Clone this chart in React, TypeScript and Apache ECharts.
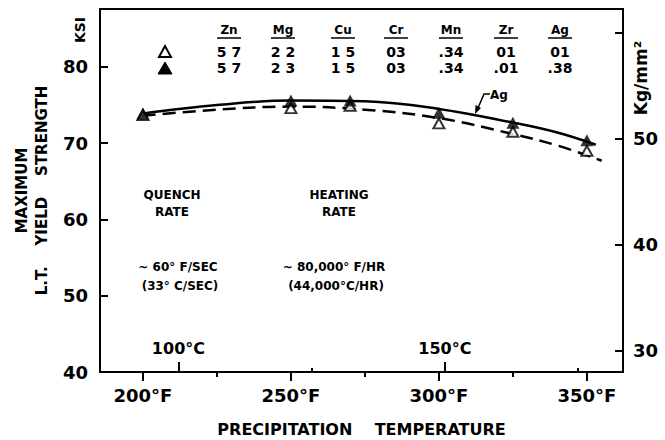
import React, { useEffect, useRef } from "react";
import * as echarts from "echarts";

// ---- data ----
const F_MAJOR = [200, 250, 300, 350];
const F_MINOR = [225, 275, 325];
const C_MAJOR = [100, 150];
const C_MINOR = [125, 175];
const KSI_TICKS = [40, 50, 60, 70, 80];
const KGMM_TICKS = [30, 40, 50, 60];
const KGMM_LABELS = [30, 40, 50];

// measured points (KSI)
const POINT_F = [200, 250, 270, 300, 325, 350];
const OPEN_KSI = [73.7, 74.6, 74.9, 72.6, 71.5, 69.0];
const FILLED_KSI = [73.9, 75.6, 75.6, 74.0, 72.7, 70.4];

// fitted curves
const SOLID_F = [200, 225, 250, 275, 300, 325, 340, 353];
const SOLID_KSI = [73.9, 75.0, 75.6, 75.5, 74.5, 72.7, 71.4, 69.8];
const DASH_F = [200, 225, 250, 275, 300, 325, 340, 355];
const DASH_KSI = [73.6, 74.4, 74.8, 74.4, 73.3, 71.2, 69.7, 67.7];

// composition table
const ELEMENTS = ["Zn", "Mg", "Cu", "Cr", "Mn", "Zr", "Ag"];
const OPEN_COMP = ["5 7", "2 2", "1 5", "03", ".34", "01", "01"];
const FILLED_COMP = ["5 7", "2 3", "1 5", "03", ".34", ".01", ".38"];

const X_MIN_F = 185.5;
const X_MAX_F = 362.2;
const toC = (f: number) => (f - 32) / 1.8;

const FONT = "DejaVu Sans";

export default function App() {
  const ref = useRef<HTMLDivElement>(null);
  useEffect(() => {
    if (!ref.current) return;
    const chart = echarts.init(ref.current, undefined, { renderer: "svg" });
    const black = "#000";
    const txt = (text: string, x: number, y: number, size: number, extra: any = {}) => ({
      type: "text",
      x,
      y,
      ...extra,
      style: {
        text,
        fill: black,
        font: `bold ${size}px "${FONT}"`,
        align: "center",
        verticalAlign: "middle",
        ...(extra.style || {}),
      },
    });
    const colX = [229, 283, 343, 396, 451, 506, 560];
    const graphics: any[] = [];
    ELEMENTS.forEach((el, i) => {
      graphics.push(txt(el, colX[i], 30, 12));
      graphics.push({
        type: "line",
        shape: { x1: colX[i] - 12, y1: 38, x2: colX[i] + 12, y2: 38 },
        style: { stroke: black, lineWidth: 1.5 },
      });
      graphics.push(txt(OPEN_COMP[i], colX[i], 52, 14));
      graphics.push(txt(FILLED_COMP[i], colX[i], 68, 14));
    });
    graphics.push({
      type: "polygon",
      shape: { points: [[165, 46], [159, 57], [171, 57]] },
      style: { fill: "#fff", stroke: black, lineWidth: 2 },
    });
    graphics.push({
      type: "polygon",
      shape: { points: [[165, 62], [158, 74], [172, 74]] },
      style: { fill: black, stroke: black, lineWidth: 1 },
    });
    graphics.push(txt("KSI", 80, 30, 14, { rotation: Math.PI / 2 }));
    graphics.push(txt("Kg/mm²", 641, 78, 17, { rotation: Math.PI / 2 }));
    graphics.push(txt("QUENCH", 172, 195, 12));
    graphics.push(txt("RATE", 172, 212, 12));
    graphics.push(txt("HEATING", 339, 195, 12));
    graphics.push(txt("RATE", 339, 212, 12));
    graphics.push(txt("~ 60° F/SEC", 178, 267, 12));
    graphics.push(txt("(33° C/SEC)", 180, 286, 12));
    graphics.push(txt("~ 80,000° F/HR", 334, 267, 12));
    graphics.push(txt("(44,000°C/HR)", 336, 286, 12));
    graphics.push(txt("Ag", 499, 95, 12));
    graphics.push({
      type: "polyline",
      shape: { points: [[490, 94], [484, 94], [478, 108]] },
      style: { stroke: black, lineWidth: 1.5, fill: null },
    });
    graphics.push({
      type: "polygon",
      shape: { points: [[475, 114], [475.5, 105], [481, 108]] },
      style: { fill: black },
    });

    const cAxisBase = {
      type: "value",
      position: "bottom",
      min: toC(X_MIN_F),
      max: toC(X_MAX_F),
      axisLine: { show: false },
      splitLine: { show: false },
    };
    const fAxisBase = {
      type: "value",
      position: "bottom",
      min: X_MIN_F,
      max: X_MAX_F,
      splitLine: { show: false },
    };

    chart.setOption({
      animation: false,
      backgroundColor: "#fff",
      textStyle: { fontFamily: FONT, color: black },
      grid: {
        show: true,
        borderColor: black,
        borderWidth: 2,
        left: 100,
        right: 42,
        top: 9,
        bottom: 68,
        containLabel: false,
        outerBoundsMode: "none",
      },
      xAxis: [
        {
          ...fAxisBase,
          axisLine: { show: true, lineStyle: { color: black, width: 2 } },
          axisTick: { show: true, customValues: F_MAJOR, length: 9, lineStyle: { color: black, width: 2 } },
          axisLabel: {
            customValues: F_MAJOR,
            formatter: (v: number) => `${v}°F`,
            color: black,
            fontWeight: "bold",
            fontSize: 18,
            fontFamily: FONT,
            margin: 14,
          },
          name: "PRECIPITATION    TEMPERATURE",
          nameLocation: "middle",
          nameGap: 49,
          nameTextStyle: { color: black, fontWeight: "bold", fontSize: 16, fontFamily: FONT },
        },
        {
          ...fAxisBase,
          axisLine: { show: false },
          axisTick: { show: true, customValues: F_MINOR, length: 5, lineStyle: { color: black, width: 2 } },
          axisLabel: { show: false },
        },
        {
          ...cAxisBase,
          axisTick: { show: true, inside: true, customValues: C_MAJOR, length: 10, lineStyle: { color: black, width: 2 } },
          axisLabel: {
            show: true,
            inside: true,
            customValues: C_MAJOR,
            formatter: (v: number) => `${v}°C`,
            color: black,
            fontWeight: "bold",
            fontSize: 16,
            fontFamily: FONT,
            margin: 16,
          },
        },
        {
          ...cAxisBase,
          axisTick: { show: true, inside: true, customValues: C_MINOR, length: 4, lineStyle: { color: black, width: 2 } },
          axisLabel: { show: false },
        },
      ],
      yAxis: [
        {
          type: "value",
          position: "left",
          min: 40,
          max: 87.6,
          splitLine: { show: false },
          axisLine: { show: true, lineStyle: { color: black, width: 2 } },
          axisTick: { show: true, inside: true, customValues: KSI_TICKS, length: 8, lineStyle: { color: black, width: 2 } },
          axisLabel: {
            customValues: KSI_TICKS,
            color: black,
            fontWeight: "bold",
            fontSize: 18,
            fontFamily: FONT,
            margin: 12,
          },
          name: "MAXIMUM\nL.T.    YIELD    STRENGTH",
          nameLocation: "middle",
          nameGap: 48,
          nameTextStyle: { color: black, fontWeight: "bold", fontSize: 15, fontFamily: FONT, lineHeight: 20 },
        },
        {
          type: "value",
          position: "right",
          min: 28.0,
          max: 62.2,
          splitLine: { show: false },
          axisLine: { show: true, lineStyle: { color: black, width: 2 } },
          axisTick: { show: true, inside: true, customValues: KGMM_TICKS, length: 8, lineStyle: { color: black, width: 2 } },
          axisLabel: {
            customValues: KGMM_LABELS,
            color: black,
            fontWeight: "bold",
            fontSize: 18,
            fontFamily: FONT,
            margin: 10,
          },
        },
      ],
      series: [
        {
          type: "line",
          name: "Ag",
          data: SOLID_F.map((f, i) => [f, SOLID_KSI[i]]),
          smooth: 0.4,
          symbol: "none",
          lineStyle: { color: black, width: 2.5 },
          z: 2,
        },
        {
          type: "line",
          name: "base",
          data: DASH_F.map((f, i) => [f, DASH_KSI[i]]),
          smooth: 0.4,
          symbol: "none",
          lineStyle: { color: black, width: 2.5, type: [13, 7] },
          z: 2,
        },
        {
          type: "scatter",
          data: POINT_F.map((f, i) => [f, OPEN_KSI[i]]),
          symbol: "triangle",
          symbolSize: [11, 10],
          itemStyle: { color: "#fff", borderColor: black, borderWidth: 2 },
          z: 3,
        },
        {
          type: "scatter",
          data: POINT_F.map((f, i) => [f, FILLED_KSI[i]]),
          symbol: "triangle",
          symbolSize: [13, 12],
          itemStyle: { color: black },
          z: 4,
        },
      ],
      graphic: graphics,
    });
    return () => chart.dispose();
  }, []);
  return (
    <div
      ref={ref}
      style={{ position: "absolute", left: 0, top: 0, width: 665, height: 440, background: "#fff" }}
    />
  );
}
